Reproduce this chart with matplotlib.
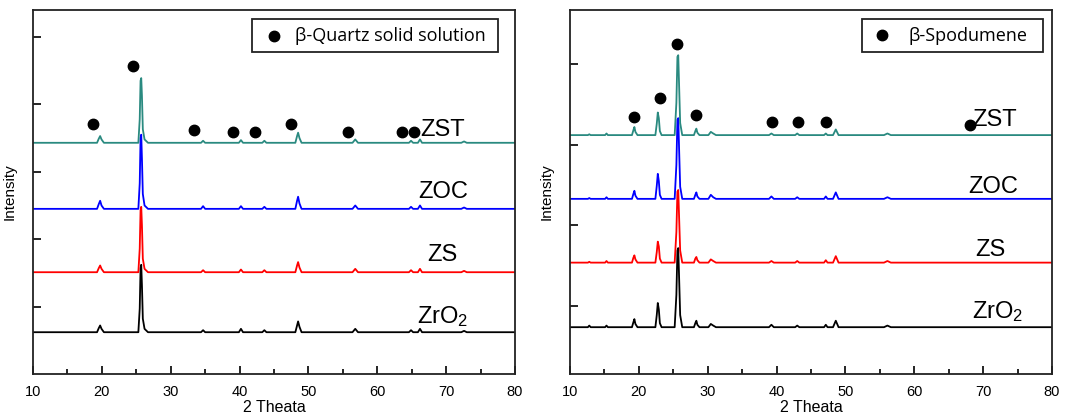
import matplotlib
matplotlib.use("Agg")
import matplotlib.pyplot as plt
import numpy as np

plt.rcParams['font.family'] = ['Liberation Sans', 'DejaVu Sans']
plt.rcParams['mathtext.fontset'] = 'custom'
plt.rcParams['mathtext.rm'] = 'Liberation Sans'
plt.rcParams['mathtext.it'] = 'Liberation Sans'

series_names = ["ZrO$_2$", "ZS", "ZOC", "ZST"]
series_colors = ["#000000", "#ff0000", "#0000ff", "#2a8a80"]

# ---- Left panel (beta-quartz solid solution) ----
left_x = [10, 19.3, 19.55, 19.75, 19.95, 20.3, 25.3, 25.5, 25.62, 25.72, 25.82, 25.95, 26.2, 26.7,
          34.4, 34.7, 35.0, 39.9, 40.2, 40.5, 43.3, 43.6, 43.9, 48.1, 48.35, 48.5, 48.7, 49.0,
          56.4, 56.8, 57.2, 64.6, 64.9, 65.2, 65.9, 66.2, 66.5, 72.2, 72.6, 73.0, 80]
left_base = [0.62, 1.51, 2.45, 3.43]
left_zro2 = [0, 0, 0.06, 0.10, 0.05, 0, 0, 0.35, 0.95, 1.00, 0.70, 0.20, 0.05, 0,
             0, 0.03, 0, 0, 0.05, 0, 0, 0.03, 0, 0, 0.10, 0.16, 0.08, 0,
             0, 0.05, 0, 0, 0.03, 0, 0, 0.05, 0, 0, 0.02, 0, 0]
left_zs = [0, 0, 0.06, 0.10, 0.05, 0, 0, 0.35, 0.92, 0.97, 0.70, 0.20, 0.05, 0,
           0, 0.03, 0, 0, 0.04, 0, 0, 0.03, 0, 0, 0.10, 0.15, 0.07, 0,
           0, 0.05, 0, 0, 0.03, 0, 0, 0.05, 0, 0, 0.02, 0, 0]
left_zoc = [0, 0, 0.07, 0.12, 0.05, 0, 0, 0.38, 1.05, 1.10, 0.75, 0.22, 0.05, 0,
            0, 0.04, 0, 0, 0.04, 0, 0, 0.03, 0, 0, 0.12, 0.18, 0.08, 0,
            0, 0.05, 0, 0, 0.03, 0, 0, 0.05, 0, 0, 0.02, 0, 0]
left_zst = [0, 0, 0.06, 0.10, 0.05, 0, 0, 0.35, 0.92, 0.96, 0.70, 0.20, 0.05, 0,
            0, 0.03, 0, 0, 0.04, 0, 0, 0.03, 0, 0, 0.10, 0.15, 0.07, 0,
            0, 0.05, 0, 0, 0.03, 0, 0, 0.05, 0, 0, 0.02, 0, 0]
left_mark_x = [18.7, 24.5, 33.4, 39.0, 42.2, 47.4, 55.7, 63.6, 65.3]
left_mark_y = [3.71, 4.57, 3.62, 3.59, 3.59, 3.71, 3.59, 3.59, 3.59]
left_label_x = [69.5, 69.5, 69.5, 69.5]
left_label_y = [0.85, 1.77, 2.70, 3.62]

# ---- Right panel (beta-spodumene) ----
right_x = [10, 12.6, 12.8, 13.0, 15.1, 15.3, 15.5, 19.0, 19.2, 19.35, 19.5, 19.8,
           22.4, 22.6, 22.75, 22.9, 23.05, 23.3, 25.2, 25.45, 25.6, 25.72, 25.85, 26.0, 26.3,
           28.0, 28.2, 28.35, 28.5, 28.8, 30.1, 30.45, 30.8, 31.2, 38.9, 39.25, 39.6,
           42.7, 43.0, 43.3, 46.9, 47.15, 47.4, 48.2, 48.6, 49.0, 55.6, 56.1, 56.6, 80]
right_base = [0.74, 1.54, 2.33, 3.12]
right_zro2 = [0, 0, 0.02, 0, 0, 0.02, 0, 0, 0.06, 0.10, 0.04, 0,
              0, 0.15, 0.30, 0.22, 0.05, 0, 0, 0.40, 0.95, 0.98, 0.60, 0.15, 0,
              0, 0.05, 0.08, 0.03, 0, 0, 0.04, 0.02, 0, 0, 0.03, 0,
              0, 0.02, 0, 0, 0.03, 0, 0, 0.08, 0, 0, 0.02, 0, 0]
right_zs = [0, 0, 0.01, 0, 0, 0.02, 0, 0, 0.06, 0.09, 0.04, 0,
            0, 0.13, 0.26, 0.20, 0.05, 0, 0, 0.38, 0.88, 0.90, 0.55, 0.15, 0,
            0, 0.05, 0.07, 0.03, 0, 0, 0.04, 0.02, 0, 0, 0.02, 0,
            0, 0.02, 0, 0, 0.03, 0, 0, 0.08, 0, 0, 0.02, 0, 0]
right_zoc = [0, 0, 0.01, 0, 0, 0.02, 0, 0, 0.06, 0.10, 0.04, 0,
             0, 0.16, 0.31, 0.22, 0.05, 0, 0, 0.42, 0.98, 1.00, 0.60, 0.15, 0,
             0, 0.05, 0.08, 0.03, 0, 0, 0.05, 0.02, 0, 0, 0.03, 0,
             0, 0.02, 0, 0, 0.03, 0, 0, 0.08, 0, 0, 0.02, 0, 0]
right_zst = [0, 0, 0.01, 0, 0, 0.02, 0, 0, 0.06, 0.10, 0.04, 0,
             0, 0.14, 0.28, 0.21, 0.05, 0, 0, 0.40, 0.97, 0.99, 0.60, 0.15, 0,
             0, 0.05, 0.08, 0.03, 0, 0, 0.04, 0.02, 0, 0, 0.02, 0,
             0, 0.02, 0, 0, 0.02, 0, 0, 0.07, 0, 0, 0.02, 0, 0]
right_mark_x = [19.25, 23.0, 25.6, 28.3, 39.3, 43.1, 47.2, 68.1]
right_mark_y = [3.35, 3.58, 4.25, 3.37, 3.28, 3.28, 3.28, 3.25]
right_label_x = [72.1, 71.1, 71.4, 71.6]
right_label_y = [0.93, 1.70, 2.48, 3.31]

x_ticks = [10, 20, 30, 40, 50, 60, 70, 80]

fig = plt.figure(figsize=(10.66, 4.16), dpi=100)
ax1 = fig.add_axes([33/1066, 1-374/416, 482/1066, 364/416])
ax2 = fig.add_axes([570/1066, 1-374/416, 482/1066, 364/416])


def style(ax, ylim, yticks):
    ax.set_xlim(10, 80)
    ax.set_ylim(*ylim)
    ax.set_xticks(x_ticks)
    ax.set_xticks(np.arange(15, 80, 10), minor=True)
    ax.set_yticks(yticks)
    ax.set_yticklabels([])
    ax.tick_params(axis='both', which='major', direction='in', length=6, width=1.2,
                   top=False, right=False, labelsize=10.5, pad=8)
    ax.tick_params(axis='x', which='minor', direction='in', length=3.5, width=1.2,
                   top=False)
    ax.tick_params(axis='y', which='minor', left=False, right=False)
    for s in ax.spines.values():
        s.set_linewidth(1.3)
        s.set_color('#222222')
    ax.set_xlabel("2 Theata", fontsize=11.5, labelpad=1)
    ax.set_ylabel("Intensity", fontsize=11, labelpad=4)


def draw(ax, xs, bases, ys_list, mx, my, lx, ly, box):
    for base, ys, col in zip(bases, ys_list, series_colors):
        ax.plot(xs, np.array(ys) + base, color=col, lw=1.3)
    ax.plot(mx, my, 'o', color='black', ms=7.5, ls='none')
    for name, x, y in zip(series_names, lx, ly):
        ax.text(x, y, name, fontsize=17, ha='center', va='center')
    x0, y0, x1, y1 = box
    leg = plt.Rectangle((x0, y0), x1 - x0, y1 - y0, transform=fig.transFigure,
                        fill=False, lw=1.3, ec='#222222')
    fig.add_artist(leg)


style(ax1, (0, 5.4), [1, 2, 3, 4, 5])
style(ax2, (0.16, 4.67), [1, 2, 3, 4])

draw(ax1, left_x, left_base, [left_zro2, left_zs, left_zoc, left_zst],
     left_mark_x, left_mark_y, left_label_x, left_label_y,
     (252/1066, 1-52/416, 498/1066, 1-19/416))
draw(ax2, right_x, right_base, [right_zro2, right_zs, right_zoc, right_zst],
     right_mark_x, right_mark_y, right_label_x, right_label_y,
     (862/1066, 1-52/416, 1043/1066, 1-19/416))

# legend contents
fig.lines.append(plt.Line2D([274/1066], [1-36/416], marker='o', color='black', ms=7.5,
                            transform=fig.transFigure, ls='none'))
fig.text(295/1066, 1-36/416, "β-Quartz solid solution", fontsize=13,
         family=['Open Sans', 'DejaVu Sans'], va='center', ha='left')
fig.lines.append(plt.Line2D([882/1066], [1-35/416], marker='o', color='black', ms=7.5,
                            transform=fig.transFigure, ls='none'))
fig.text(908/1066, 1-36/416, "β-Spodumene", fontsize=13,
         family=['Open Sans', 'DejaVu Sans'], va='center', ha='left')

fig.savefig("out.png", dpi=100)
